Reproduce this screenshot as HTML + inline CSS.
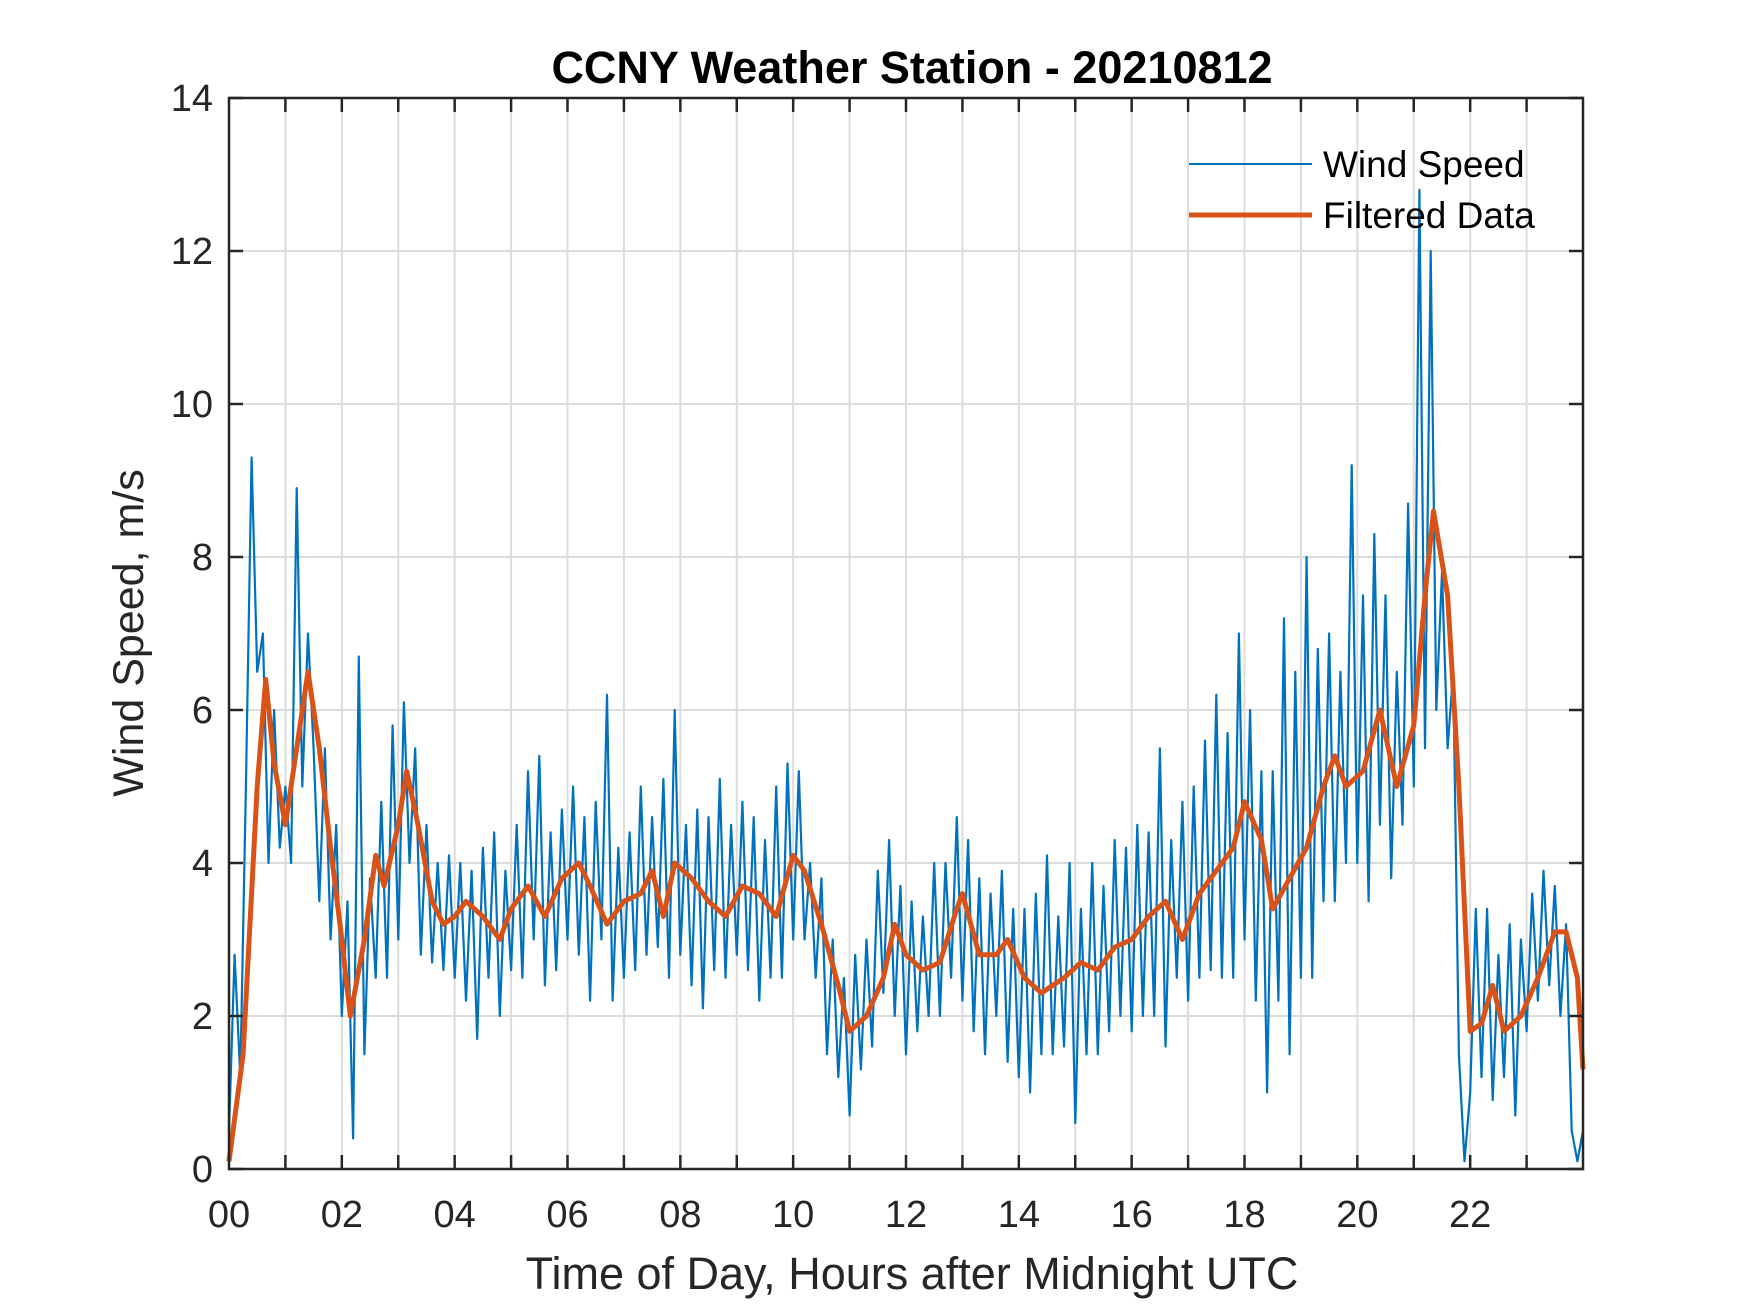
<!DOCTYPE html>
<html><head><meta charset="utf-8"><style>
html,body{margin:0;padding:0;background:#fff}
svg{display:block;font-family:"Liberation Sans",Arial,sans-serif}
</style></head><body>
<svg id="chart" width="1750" height="1313" viewBox="0 0 1750 1313">
<g id="grid"></g>
<g id="series"></g>
<g id="axes"></g>
<text x="912" y="83" text-anchor="middle" font-size="45" font-weight="bold" fill="#000">CCNY Weather Station - 20210812</text>
<text x="912" y="1289" text-anchor="middle" font-size="45" fill="#262626">Time of Day, Hours after Midnight UTC</text>
<text x="0" y="0" transform="translate(143,633) rotate(-90)" text-anchor="middle" font-size="43" fill="#262626">Wind Speed, m/s</text>
<g>
<line x1="1189" y1="164" x2="1312" y2="164" stroke="#0072BD" stroke-width="2"/>
<text x="1323" y="177" font-size="37" fill="#000">Wind Speed</text>
<line x1="1189" y1="215" x2="1312" y2="215" stroke="#D95319" stroke-width="5"/>
<text x="1323" y="228" font-size="37" fill="#000">Filtered Data</text>
</g>
</svg>
<script>
const rawValues=[
0.5,2.8,1.2,5,9.3,6.5,7,4,6,4.2,
5,4,8.9,5,7,5.5,3.5,5.5,3,4.5,
2,3.5,0.4,6.7,1.5,3.8,2.5,4.8,2.5,5.8,
3,6.1,4,5.5,2.8,4.5,2.7,4,2.6,4.1,
2.5,4,2.2,3.9,1.7,4.2,2.5,4.4,2,3.9,
2.6,4.5,2.5,5.2,3,5.4,2.4,4.4,2.6,4.7,
3,5,2.8,4.6,2.2,4.8,3,6.2,2.2,4.2,
2.5,4.4,2.6,5,2.8,4.6,2.9,5.1,2.5,6,
2.8,4.5,2.4,4.7,2.1,4.6,2.6,5.1,2.5,4.5,
2.8,4.8,2.6,4.6,2.2,4.3,2.5,5,2.5,5.3,
3,5.2,3,4,2.5,3.8,1.5,3,1.2,2.5,
0.7,2.8,1.3,3,1.6,3.9,2.3,4.3,2,3.7,
1.5,3.5,1.8,3.3,2,4,2,4,2.5,4.6,
2.2,4.3,1.8,3.8,1.5,3.6,2,3.9,1.4,3.4,
1.2,3.4,1,3.6,1.5,4.1,1.5,3.3,1.6,4,
0.6,3.4,1.5,4,1.5,3.7,1.8,4.3,2,4.2,
1.8,4.5,2,4.4,2,5.5,1.6,4.3,2.5,4.8,
2.2,5,2.5,5.6,2.6,6.2,2.5,5.7,2.5,7,
3,6,2.2,5.2,1,5.2,2.2,7.2,1.5,6.5,
2.5,8,2.5,6.8,3.5,7,3.5,6.5,4,9.2,
4,7.5,3.5,8.3,4.5,7.5,3.8,6.5,4.5,8.7,
5,12.8,5.5,12,6,7.8,5.5,6.5,1.5,0.1,
1,3.4,1.2,3.4,0.9,2.8,1.2,3.2,0.7,3,
1.8,3.6,2.2,3.9,2.4,3.7,2,3.2,0.5,0.1,
0.5];
const rawStepHours=0.1;
const filtHours=[0,0.25,0.5,0.65,0.8,1.0,1.2,1.4,1.6,1.8,2.0,2.15,2.4,2.6,2.75,3.0,3.15,3.35,3.6,3.8,4.0,4.2,4.5,4.8,5.0,5.3,5.6,5.9,6.2,6.4,6.7,7.0,7.3,7.5,7.7,7.9,8.2,8.5,8.8,9.1,9.4,9.7,10.0,10.2,10.5,10.8,11.0,11.3,11.6,11.8,12.0,12.3,12.6,12.9,13.0,13.3,13.6,13.8,14.1,14.4,14.8,15.1,15.4,15.7,16.0,16.3,16.6,16.9,17.2,17.5,17.8,18.0,18.3,18.5,18.8,19.1,19.4,19.6,19.8,20.1,20.4,20.7,21.0,21.2,21.35,21.6,21.8,22.0,22.2,22.4,22.6,22.9,23.2,23.5,23.7,23.9,24.0];
const filtValues=[0.1,1.5,5.0,6.4,5.3,4.5,5.5,6.5,5.5,4.2,3.0,2.0,3.0,4.1,3.7,4.5,5.2,4.5,3.5,3.2,3.3,3.5,3.3,3.0,3.4,3.7,3.3,3.8,4.0,3.7,3.2,3.5,3.6,3.9,3.3,4.0,3.8,3.5,3.3,3.7,3.6,3.3,4.1,3.9,3.2,2.4,1.8,2.0,2.5,3.2,2.8,2.6,2.7,3.4,3.6,2.8,2.8,3.0,2.5,2.3,2.5,2.7,2.6,2.9,3.0,3.3,3.5,3.0,3.6,3.9,4.2,4.8,4.3,3.4,3.8,4.2,5.0,5.4,5.0,5.2,6.0,5.0,5.8,7.5,8.6,7.5,5.0,1.8,1.9,2.4,1.8,2.0,2.5,3.1,3.1,2.5,1.3];
const xTicks=[0,2,4,6,8,10,12,14,16,18,20,22];
const xTickLabels=["00","02","04","06","08","10","12","14","16","18","20","22"];
const yTicks=[0,2,4,6,8,10,12,14];

const L=229,R=1583,T=98,B=1169;
const X=h=>L+(R-L)*h/24;
const Y=v=>B-(B-T)*v/14;
const NS="http://www.w3.org/2000/svg";
function mk(tag,attrs,parent){const e=document.createElementNS(NS,tag);for(const k in attrs)e.setAttribute(k,attrs[k]);parent.appendChild(e);return e;}
const grid=document.getElementById('grid'),series=document.getElementById('series'),axes=document.getElementById('axes');
for(let h=1;h<24;h++){const g=mk('line',{x1:X(h),x2:X(h),y1:T,y2:B,stroke:'#dcdcdc','stroke-width':2},grid);

}
yTicks.forEach(v=>{if(v>0&&v<14){const g=mk('line',{x1:L,x2:R,y1:Y(v),y2:Y(v),stroke:'#dcdcdc','stroke-width':2},grid);

}});
let d='';rawValues.forEach((v,i)=>{d+=(i?'L':'M')+X(i*rawStepHours).toFixed(1)+' '+Y(v).toFixed(1);});
const raw=mk('path',{d:d,fill:'none',stroke:'#0072BD','stroke-width':2.2,'stroke-linejoin':'round'},series);


d='';filtHours.forEach((h,i)=>{d+=(i?'L':'M')+X(h).toFixed(1)+' '+Y(filtValues[i]).toFixed(1);});
const f=mk('path',{d:d,fill:'none',stroke:'#D95319','stroke-width':5,'stroke-linejoin':'round'},series);


for(let h=1;h<24;h++){
const a=mk('line',{x1:X(h),x2:X(h),y1:B,y2:B-14,stroke:'#262626','stroke-width':2.5},axes);


const b=mk('line',{x1:X(h),x2:X(h),y1:T,y2:T+14,stroke:'#262626','stroke-width':2.5},axes);

}
yTicks.forEach(v=>{
const a=mk('line',{x1:L,x2:L+14,y1:Y(v),y2:Y(v),stroke:'#262626','stroke-width':2.5},axes);


const b=mk('line',{x1:R,x2:R-14,y1:Y(v),y2:Y(v),stroke:'#262626','stroke-width':2.5},axes);


const t=mk('text',{x:213,y:Y(v)+13,'text-anchor':'end','font-size':38,fill:'#262626'},axes);t.textContent=String(v);

});
xTicks.forEach((h,i)=>{const t=mk('text',{x:X(h),y:1227,'text-anchor':'middle','font-size':38,fill:'#262626'},axes);t.textContent=xTickLabels[i];

});
const box=mk('rect',{x:L,y:T,width:R-L,height:B-T,fill:'none',stroke:'#262626','stroke-width':2.5},axes);


</script>
</body></html>
